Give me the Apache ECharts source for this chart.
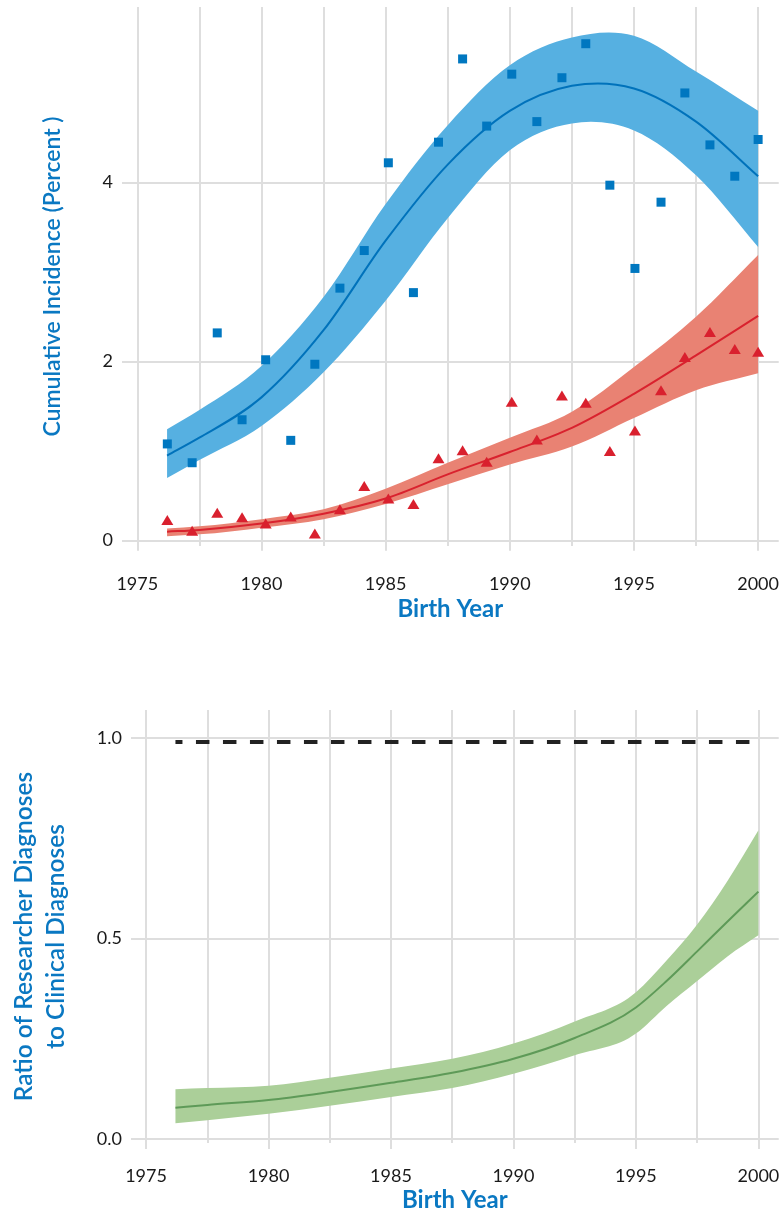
<!DOCTYPE html>
<html>
<head>
<meta charset="utf-8">
<script src="https://cdn.jsdelivr.net/npm/echarts@6/dist/echarts.min.js"></script>
<style>
html,body{margin:0;padding:0;background:#fff;}
#chart{width:782px;height:1214px;}
</style>
</head>
<body>
<div id="chart"></div>
<script>
// ---- Data ----
const obsYears = [1976.21, 1977.21, 1978.22, 1979.22, 1980.17, 1981.18, 1982.15, 1983.16, 1984.14, 1985.11, 1986.12, 1987.13, 1988.1, 1989.07, 1990.08, 1991.09, 1992.1, 1993.06, 1994.03, 1995.04, 1996.09, 1997.05, 1998.06, 1999.06, 2000.0];
const clinicalObs = [1.08, 0.87, 2.32, 1.35, 2.02, 1.12, 1.97, 2.82, 3.24, 4.22, 2.77, 4.45, 5.38, 4.63, 5.21, 4.68, 5.17, 5.55, 3.97, 3.04, 3.78, 5.00, 4.42, 4.07, 4.48];
const researcherObs = [0.23, 0.11, 0.31, 0.26, 0.19, 0.27, 0.08, 0.35, 0.61, 0.47, 0.41, 0.92, 1.01, 0.88, 1.55, 1.13, 1.62, 1.54, 1.00, 1.23, 1.68, 2.05, 2.33, 2.14, 2.11];

const clinicalFitYears = [1976.2, 1977.5, 1980, 1982.5, 1985, 1987.5, 1990, 1992.5, 1995, 1997.5, 2000];
const clinicalFit      = [0.95, 1.15, 1.60, 2.35, 3.35, 4.20, 4.80, 5.08, 5.05, 4.68, 4.07];
const clinicalUpper    = [1.245, 1.46, 1.95, 2.72, 3.76, 4.64, 5.31, 5.62, 5.64, 5.24, 4.80];
const clinicalLower    = [0.70, 0.90, 1.28, 1.88, 2.68, 3.60, 4.36, 4.66, 4.58, 4.08, 3.28];

const researcherFitYears = [1976.2, 1977.5, 1980, 1982.5, 1985, 1987.5, 1990, 1992.5, 1995, 1997.5, 2000];
const researcherFit      = [0.10, 0.12, 0.19, 0.30, 0.47, 0.74, 0.99, 1.26, 1.64, 2.07, 2.51];
const researcherUpper    = [0.135, 0.16, 0.24, 0.35, 0.58, 0.87, 1.15, 1.44, 1.94, 2.50, 3.19];
const researcherLower    = [0.05, 0.07, 0.145, 0.24, 0.41, 0.63, 0.85, 1.05, 1.37, 1.68, 1.87];

const ratioYears = [1976.2, 1977.5, 1980, 1982.5, 1985, 1987.5, 1990, 1992.5, 1995, 1996.25, 1997.5, 1998.75, 2000];
const ratioFit   = [0.078, 0.085, 0.097, 0.117, 0.140, 0.165, 0.200, 0.252, 0.328, 0.394, 0.468, 0.543, 0.617];
const ratioUpper = [0.124, 0.127, 0.133, 0.153, 0.176, 0.200, 0.238, 0.293, 0.366, 0.445, 0.535, 0.645, 0.770];
const ratioLower = [0.039, 0.047, 0.063, 0.083, 0.105, 0.127, 0.163, 0.209, 0.263, 0.332, 0.394, 0.456, 0.508];

const refYears = [1976.2, 2000];
const refRatio = [0.99, 0.99];

const xTickLabels = [1975, 1980, 1985, 1990, 1995, 2000];
const xGridYears = [1975, 1977.5, 1980, 1982.5, 1985, 1987.5, 1990, 1992.5, 1995, 1997.5, 2000];
const topYTicks = [0, 2, 4];
const bottomYTicks = [0, 0.5, 1.0];

// ---- helpers ----
const pairs = (xs, ys) => xs.map((x, i) => [x, ys[i]]);

const FONT = 'Lato';
const BLUE_TITLE = '#0a78c2';
const GRID_COLOR = '#dedede';

function gridMarkLine(ys) {
  return {
    silent: true,
    z: 0,
    symbol: ['none', 'none'],
    label: { show: false },
    lineStyle: { color: GRID_COLOR, width: 2, type: 'solid' },
    emphasis: { disabled: true },
    data: xGridYears.map(v => ({ xAxis: v })).concat(ys.map(v => ({ yAxis: v })))
  };
}

// cubic Hermite path through pixel points (three-point parabola tangents)
function hermiteSegments(pts) {
  const n = pts.length;
  const m = new Array(n);
  for (let i = 0; i < n; i++) {
    if (i === 0) m[i] = (pts[1][1] - pts[0][1]) / (pts[1][0] - pts[0][0]);
    else if (i === n - 1) m[i] = (pts[n - 1][1] - pts[n - 2][1]) / (pts[n - 1][0] - pts[n - 2][0]);
    else {
      const h0 = pts[i][0] - pts[i - 1][0], h1 = pts[i + 1][0] - pts[i][0];
      const s0 = (pts[i][1] - pts[i - 1][1]) / h0;
      const s1 = (pts[i + 1][1] - pts[i][1]) / h1;
      m[i] = (h1 * s0 + h0 * s1) / (h0 + h1);
    }
  }
  let d = '';
  for (let i = 0; i < n - 1; i++) {
    const dx = (pts[i + 1][0] - pts[i][0]) / 3;
    const c1 = [pts[i][0] + dx, pts[i][1] + m[i] * dx];
    const c2 = [pts[i + 1][0] - dx, pts[i + 1][1] - m[i + 1] * dx];
    d += ' C' + c1[0] + ' ' + c1[1] + ' ' + c2[0] + ' ' + c2[1] + ' ' + pts[i + 1][0] + ' ' + pts[i + 1][1];
  }
  return d;
}

function bandSeries(xi, yi, xs, up, lo, color, z) {
  return {
    type: 'custom', xAxisIndex: xi, yAxisIndex: yi, z: z, silent: true,
    data: pairs(xs, up), encode: { x: 0, y: 1 },
    renderItem: function (params, api) {
      if (params.dataIndex !== 0) return null;
      const upPts = xs.map((x, i) => api.coord([x, up[i]]));
      const loPts = xs.map((x, i) => api.coord([x, lo[i]])).reverse();
      let d = 'M' + upPts[0][0] + ' ' + upPts[0][1] + hermiteSegments(upPts);
      d += ' L' + loPts[0][0] + ' ' + loPts[0][1] + hermiteSegments(loPts) + ' Z';
      return { type: 'path', shape: { pathData: d }, style: { fill: color, stroke: null } };
    }
  };
}

function curveSeries(xi, yi, xs, ys, color, width, z) {
  return {
    type: 'custom', xAxisIndex: xi, yAxisIndex: yi, z: z, silent: true,
    data: pairs(xs, ys), encode: { x: 0, y: 1 },
    renderItem: function (params, api) {
      if (params.dataIndex !== 0) return null;
      const pts = xs.map((x, i) => api.coord([x, ys[i]]));
      const d = 'M' + pts[0][0] + ' ' + pts[0][1] + hermiteSegments(pts);
      return { type: 'path', shape: { pathData: d }, style: { fill: null, stroke: color, lineWidth: width } };
    }
  };
}

function xAxisCfg(gridIndex, margin, nameGap) {
  return {
    type: 'value', gridIndex: gridIndex,
    min: 1974.385, max: 2000.83,
    axisLine: { show: false },
    splitLine: { show: false },
    axisTick: { show: true, customValues: xTickLabels, length: 10, lineStyle: { color: GRID_COLOR, width: 2 } },
    axisLabel: { customValues: xTickLabels, margin: margin, fontFamily: FONT, fontSize: 18, color: '#1a1a1a', formatter: v => String(Math.round(v)) },
    name: 'Birth Year', nameLocation: 'middle', nameGap: nameGap,
    nameTextStyle: { fontFamily: FONT, fontSize: 24, fontWeight: 'bold', color: BLUE_TITLE }
  };
}

const chart = echarts.init(document.getElementById('chart'), null, { renderer: 'canvas' });

const option = {
  animation: false,
  backgroundColor: '#ffffff',
  grid: [
    { left: 122, right: 2, top: 7, bottom: 668, containLabel: false },
    { left: 122, right: 2, top: 710, bottom: 71, containLabel: false }
  ],
  xAxis: [ xAxisCfg(0, 29, 51), xAxisCfg(1, 24, 45) ],
  yAxis: [
    {
      type: 'value', gridIndex: 0, min: -0.06, max: 5.96,
      axisLine: { show: false }, axisTick: { show: false }, splitLine: { show: false },
      axisLabel: { customValues: topYTicks, margin: 9, fontFamily: FONT, fontSize: 18, color: '#1a1a1a', formatter: v => String(Math.round(v)) },
      name: 'Cumulative Incidence (Percent )', nameLocation: 'middle', nameGap: 58,
      nameTextStyle: { fontFamily: FONT, fontSize: 23, fontWeight: 600, color: BLUE_TITLE }
    },
    {
      type: 'value', gridIndex: 1, min: -0.01, max: 1.07,
      axisLine: { show: false }, axisTick: { show: false }, splitLine: { show: false },
      axisLabel: { customValues: bottomYTicks, margin: 9, fontFamily: FONT, fontSize: 18, color: '#1a1a1a', formatter: v => v.toFixed(1) },
      name: 'Ratio of Researcher Diagnoses\nto Clinical Diagnoses', nameLocation: 'middle', nameGap: 59,
      nameTextStyle: { fontFamily: FONT, fontSize: 24.5, fontWeight: 600, lineHeight: 32, color: BLUE_TITLE, padding: [0, 20, 0, 0] }
    }
  ],
  series: [
    bandSeries(0, 0, clinicalFitYears, clinicalUpper, clinicalLower, '#56b0e1', 2),
    bandSeries(0, 0, researcherFitYears, researcherUpper, researcherLower, '#e98273', 2),
    curveSeries(0, 0, clinicalFitYears, clinicalFit, '#0072bb', 2, 3),
    curveSeries(0, 0, researcherFitYears, researcherFit, '#d9222e', 2, 3),
    { type: 'scatter', xAxisIndex: 0, yAxisIndex: 0, z: 4, data: pairs(obsYears, clinicalObs), symbol: 'rect', symbolSize: 9, itemStyle: { color: '#0077c0', opacity: 1 }, silent: true, markLine: gridMarkLine(topYTicks) },
    { type: 'scatter', xAxisIndex: 0, yAxisIndex: 0, z: 4, data: pairs(obsYears, researcherObs), symbol: 'triangle', symbolSize: [12, 10], itemStyle: { color: '#d9202e', opacity: 1 }, silent: true },
    bandSeries(1, 1, ratioYears, ratioUpper, ratioLower, '#abcf99', 2),
    curveSeries(1, 1, ratioYears, ratioFit, '#5e9a58', 2, 3),
    { type: 'line', xAxisIndex: 1, yAxisIndex: 1, z: 4, data: pairs(refYears, refRatio), symbol: 'none', lineStyle: { color: '#222222', width: 4, type: [13.5, 13.5], dashOffset: 6.5, cap: 'butt' }, silent: true, markLine: gridMarkLine(bottomYTicks) }
  ]
};

chart.setOption(option);
</script>
</body>
</html>
